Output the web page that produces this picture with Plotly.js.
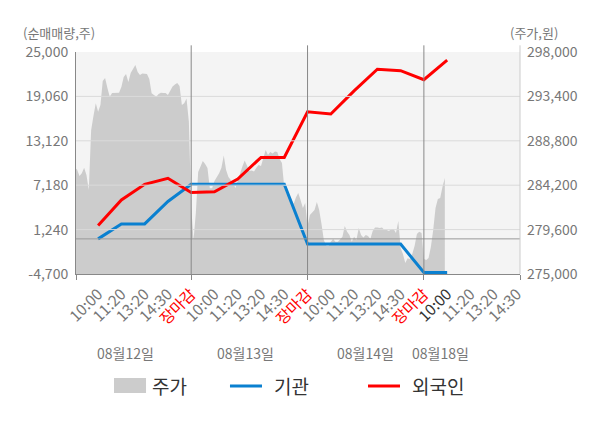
<!DOCTYPE html>
<html>
<head>
<meta charset="utf-8">
<script src="https://cdn.plot.ly/plotly-3.0.1.min.js"></script>
<style>
html,body{margin:0;padding:0;background:#fff;}
#chart{width:600px;height:428px;}
</style>
</head>
<body>
<div id="chart"></div>
<script>
// ---- data ----
const tickPos = [1,2,3,4,5,6,7,8,9,10,11,12,13,14,15,16,17,18,19];
const tickLabels = ['10:00','11:20','13:20','14:30','장마감','10:00','11:20','13:20','14:30','장마감','10:00','11:20','13:20','14:30','장마감','10:00','11:20','13:20','14:30'];
const dayLabels = ['08월12일','08월13일','08월14일','08월18일'];
const dayLabelPos = [2.17, 7.33, 12.48, 15.7];
const closeSlots = [5, 10, 15];

// net buying (shares), one value per slot 1..16
const lineSlots = [1,2,3,4,5,6,7,8,9,10,11,12,13,14,15,16];
const institution = [0,2000,2000,5000,7300,7300,7300,7300,7300,-700,-700,-700,-700,-700,-4500,-4500];
const foreign = [1800,5200,7300,8100,6200,6300,8000,10900,10900,17000,16700,19800,22700,22500,21300,23900];

// intraday price (won), 10 samples per slot
const priceDay1 = [286000,285800,285150,285450,286000,285260,283700,289900,291370,292700,
  291800,292500,295000,295300,294270,293370,293750,293780,293780,293780,
  294370,295400,295720,294900,295820,296290,296650,295930,295620,295770,
  295720,295720,295200,293720,293540,293370,293650,293780,293750,293750,
  293540,294060,294420,294630,294790,294480,292500,292700,293180,290780];
const priceDay2 = [281970,278520,281320,285570,286190,286710,286400,285980,283880,283880,
  284630,285000,285450,286000,287280,285770,285050,284740,284430,283910,
  284740,285450,286140,286760,286190,285670,285720,285620,286000,286290,
  286190,287120,287850,287330,287640,287480,287690,287640,286910,286500,
  283960,283340,283180,282770,282250,282930,283390,282670,281840,282360];
const priceDay3 = [279970,281110,281320,281630,282460,281630,280180,278520,277950,277900,
  278350,278630,278350,278350,278570,278860,279970,279380,279040,278350,
  278860,278520,279770,279040,278780,279040,278940,278630,279450,279820,
  279820,279770,279820,279560,279560,279450,279660,279660,279250,280490,
  277690,277070,276140,276630,276550,277070,277900,279140,279380,279250];
const priceDay4 = [276550,276450,276660,277800,279560,281840,282770,282870,284040,284950];

const volTicks = [-4700,1240,7180,13120,19060,25000];
const volTickText = ['-4,700','1,240','7,180','13,120','19,060','25,000'];
const priceTicks = [275000,279600,284200,288800,293400,298000];
const priceTickText = ['275,000','279,600','284,200','288,800','293,400','298,000'];

// ---- build ----
const priceDays = [priceDay1, priceDay2, priceDay3, priceDay4];
const priceX = [], priceY = [];
priceDays.forEach((arr, d) => {
  arr.forEach((v, i) => { priceX.push(d * 5 + i * 0.1); priceY.push(v); });
});

const tickText = tickLabels.map((t, i) => {
  if (t === '장마감') return '<span style="color:#ff0000">' + t + '</span>';
  if (i === 15) return '<span style="color:#333333">' + t + '</span>';
  return t;
});

const FONT = '"Noto Sans CJK KR", "Noto Sans", sans-serif';
const GRAY = '#777777';

const traces = [
  {x: priceX, y: priceY, yaxis: 'y', type: 'scatter', mode: 'lines', name: '주가',
   fill: 'tozeroy', fillcolor: '#cccccc', line: {width: 0, color: '#cccccc'}},
  {x: lineSlots, y: institution, yaxis: 'y2', type: 'scatter', mode: 'lines', name: '기관',
   line: {color: '#0a80d0', width: 3}},
  {x: lineSlots, y: foreign, yaxis: 'y2', type: 'scatter', mode: 'lines', name: '외국인',
   line: {color: '#ff0000', width: 3}}
];

const shapes = [];
volTicks.slice(1, 5).forEach(v => shapes.push({type: 'line', xref: 'paper', x0: 0, x1: 1, yref: 'y2', y0: v, y1: v,
  line: {color: '#dadada', width: 1}, layer: 'above'}));
shapes.push({type: 'line', xref: 'paper', x0: 0, x1: 1, yref: 'y2', y0: 0, y1: 0,
  line: {color: '#999999', width: 1}, layer: 'above'});
closeSlots.forEach(s => shapes.push({type: 'line', xref: 'x', x0: s, x1: s, yref: 'paper', y0: 0, y1: 1.03,
  line: {color: '#888888', width: 1}, layer: 'above'}));
shapes.push({type: 'line', xref: 'paper', x0: 1, x1: 1, yref: 'paper', y0: 0, y1: 1.03,
  line: {color: '#cccccc', width: 1}, layer: 'above'});
// custom legend symbols
shapes.push({type: 'rect', xref: 'paper', yref: 'paper', x0: 0.0856, x1: 0.1577, y0: -0.536, y1: -0.4685,
  fillcolor: '#cccccc', line: {width: 0}});
shapes.push({type: 'line', xref: 'paper', yref: 'paper', x0: 0.3468, x1: 0.4189, y0: -0.5045, y1: -0.5045,
  line: {color: '#0a80d0', width: 3}});
shapes.push({type: 'line', xref: 'paper', yref: 'paper', x0: 0.6577, x1: 0.7297, y0: -0.5045, y1: -0.5045,
  line: {color: '#ff0000', width: 3}});

const annotations = [
  {text: '(순매매량,주)', xref: 'paper', yref: 'paper', x: -0.1216, y: 1.09, xanchor: 'left', yanchor: 'middle',
   showarrow: false, borderpad: 0, font: {size: 13, color: GRAY, family: FONT}},
  {text: '(주가,원)', xref: 'paper', yref: 'paper', x: 0.975, y: 1.09, xanchor: 'left', yanchor: 'middle',
   showarrow: false, borderpad: 0, font: {size: 13, color: GRAY, family: FONT}},
  {text: '주가', xref: 'paper', yref: 'paper', x: 0.1667, y: -0.502, xanchor: 'left', yanchor: 'middle',
   showarrow: false, font: {size: 19, color: '#333333', family: FONT}},
  {text: '기관', xref: 'paper', yref: 'paper', x: 0.4414, y: -0.502, xanchor: 'left', yanchor: 'middle',
   showarrow: false, font: {size: 19, color: '#333333', family: FONT}},
  {text: '외국인', xref: 'paper', yref: 'paper', x: 0.7523, y: -0.502, xanchor: 'left', yanchor: 'middle',
   showarrow: false, font: {size: 19, color: '#333333', family: FONT}}
];
dayLabels.forEach((t, i) => annotations.push({text: t, xref: 'x', yref: 'paper', x: dayLabelPos[i], y: -0.356,
  xanchor: 'center', yanchor: 'middle', showarrow: false, font: {size: 14, color: GRAY, family: FONT}}));

const layout = {
  width: 600, height: 428,
  margin: {l: 76, r: 80, t: 52, b: 154},
  paper_bgcolor: '#ffffff', plot_bgcolor: '#f4f4f4',
  showlegend: false,
  font: {family: FONT, color: GRAY, size: 14},
  xaxis: {range: [0.05, 19.13], tickvals: tickPos, ticktext: tickText, tickangle: -45,
    showgrid: false, zeroline: false, showline: true, linecolor: '#888888', ticks: '',
    ticklabelstandoff: 4,
    tickfont: {size: 15.5, color: GRAY, family: FONT},
    minor: {tickvals: [0.05, 5, 10, 15, 19.13], ticks: 'outside', ticklen: 5, tickcolor: '#888888', showgrid: false}},
  yaxis: {range: [275000, 298000], side: 'right', tickvals: priceTicks, ticktext: priceTickText,
    showgrid: false, zeroline: false, showline: false, ticks: '', ticklabelstandoff: 6,
    tickfont: {size: 14, color: GRAY, family: FONT}},
  yaxis2: {range: [-4700, 25000], overlaying: 'y', side: 'left', tickvals: volTicks, ticktext: volTickText,
    showgrid: false, zeroline: false, showline: true, linecolor: '#888888', ticks: '', ticklabelstandoff: 4,
    tickfont: {size: 14, color: GRAY, family: FONT}},
  shapes: shapes,
  annotations: annotations
};

Plotly.newPlot('chart', traces, layout, {staticPlot: true, displayModeBar: false});
</script>
</body>
</html>
